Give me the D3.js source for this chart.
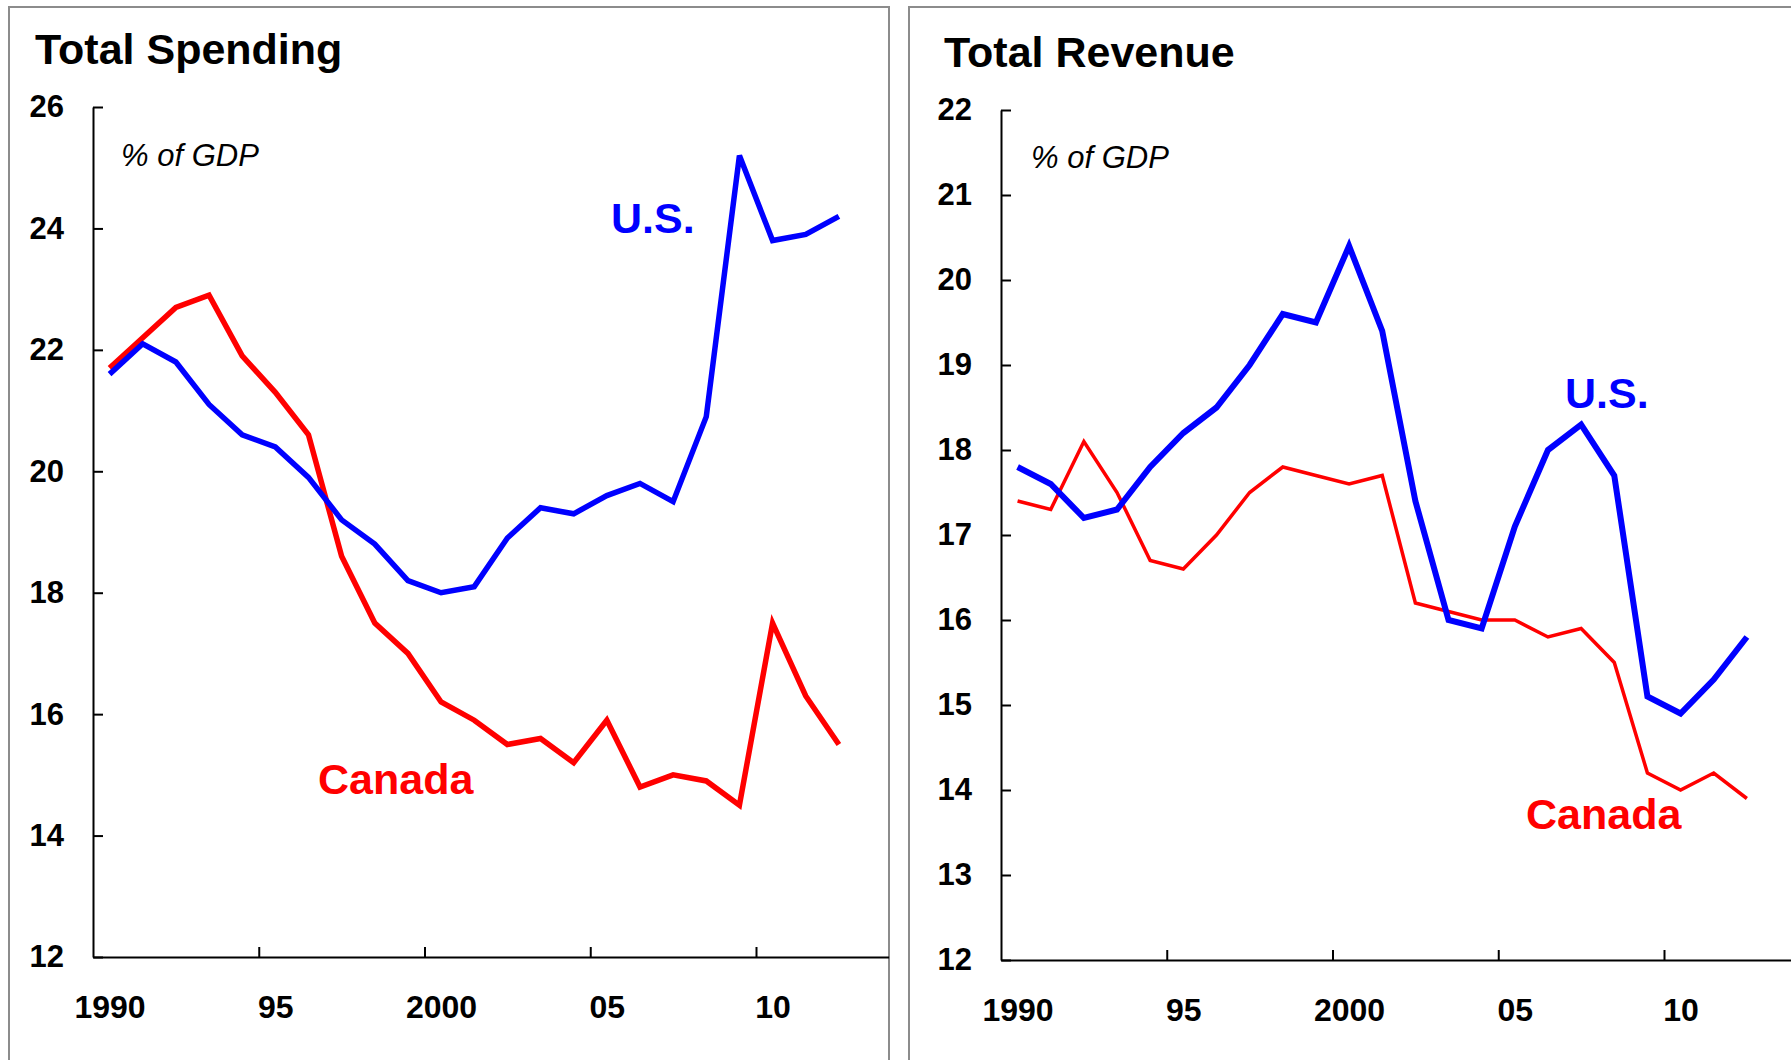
<!DOCTYPE html>
<html>
<head>
<meta charset="utf-8">
<script src="https://cdn.jsdelivr.net/npm/d3@7/dist/d3.min.js"></script>
<style>
	body { margin: 0; background: #fff; }
	svg { display: block; font-family: "Liberation Sans", Arial, sans-serif; }
</style>
</head>
<body>
<div id="chart"></div>
<script>
// data (% of GDP)
const years = [1990, 1991, 1992, 1993, 1994, 1995, 1996, 1997, 1998, 1999, 2000, 2001,
	2002, 2003, 2004, 2005, 2006, 2007, 2008, 2009, 2010, 2011, 2012]

const usSpending = [21.6, 22.1, 21.8, 21.1, 20.6, 20.4, 19.9, 19.2, 18.8, 18.2, 18.0, 18.1,
	18.9, 19.4, 19.3, 19.6, 19.8, 19.5, 20.9, 25.2, 23.8, 23.9, 24.2]
const canadaSpending = [21.7, 22.2, 22.7, 22.9, 21.9, 21.3, 20.6, 18.6, 17.5, 17.0, 16.2, 15.9,
	15.5, 15.6, 15.2, 15.9, 14.8, 15.0, 14.9, 14.5, 17.5, 16.3, 15.5]

const usRevenue = [17.8, 17.6, 17.2, 17.3, 17.8, 18.2, 18.5, 19.0, 19.6, 19.5, 20.4, 19.4,
	17.4, 16.0, 15.9, 17.1, 18.0, 18.3, 17.7, 15.1, 14.9, 15.3, 15.8]
const canadaRevenue = [17.4, 17.3, 18.1, 17.5, 16.7, 16.6, 17.0, 17.5, 17.8, 17.7, 17.6, 17.7,
	16.2, 16.1, 16.0, 16.0, 15.8, 15.9, 15.5, 14.2, 14.0, 14.2, 13.9]

const xLabelYears = [1990, 1995, 2000, 2005, 2010]
const xLabels = ["1990", "95", "2000", "05", "10"]
const spendingTicks = [12, 14, 16, 18, 20, 22, 24, 26]
const revenueTicks = [12, 13, 14, 15, 16, 17, 18, 19, 20, 21, 22]

const BLUE = "#0000ff"
const RED = "#ff0000"

class panelViz{
	constructor(svg, opts){
		this.svg = svg
		this.opts = opts
		this.initVis()
	}

	initVis(){
		let vis = this;
		let o = vis.opts

		vis.g = vis.svg.append("g")

		// panel frame (runs off the bottom of the picture)
		vis.g.append("rect")
				.attr("x", o.frame[0]).attr("y", o.frame[1])
				.attr("width", o.frame[2]).attr("height", 1200)
				.attr("fill", "none")
				.attr("stroke", "#8c8c8c")
				.attr("stroke-width", 2)

		// category axis: one band per year, 1990-2013
		vis.xScale = d3.scaleLinear()
				.domain([1989.5, 2013.5])
				.range([o.left, o.left + 24 * o.band])

		vis.yScale = d3.scaleLinear()
				.domain(d3.extent(o.ticks))
				.range([o.bottom, o.top])

		vis.yAxis = d3.axisLeft(vis.yScale)
				.tickValues(o.ticks)
				.tickSizeInner(-10)
				.tickSizeOuter(0)
				.tickPadding(29)

		vis.g.append("g")
				.attr("transform", `translate(${o.left},0)`)
				.call(vis.yAxis)
				.call(g => g.selectAll("text").attr("font-size", 31).attr("font-weight", "bold").attr("fill", "#000"))
				.call(g => g.selectAll("line,path").attr("stroke", "#000").attr("stroke-width", 2))

		// tick marks between categories
		vis.g.append("g")
				.attr("transform", `translate(0,${o.bottom})`)
				.call(d3.axisBottom(vis.xScale)
						.tickValues([1994.5, 1999.5, 2004.5, 2009.5])
						.tickFormat("")
						.tickSizeInner(-10)
						.tickSizeOuter(0))
				.call(g => g.selectAll("line,path").attr("stroke", "#000").attr("stroke-width", 2))

		// labels centred in the categories
		vis.g.append("g")
				.attr("transform", `translate(0,${o.bottom})`)
				.call(d3.axisBottom(vis.xScale)
						.tickValues(xLabelYears)
						.tickFormat((d, i) => xLabels[i])
						.tickSize(0)
						.tickPadding(38))
				.call(g => g.select(".domain").remove())
				.call(g => g.selectAll("text").attr("font-size", 32).attr("font-weight", "bold").attr("fill", "#000"))

		vis.line = d3.line()
				.x((d, i) => vis.xScale(years[i]))
				.y(d => vis.yScale(d))

		o.series.forEach(s => {
			vis.g.append("path")
					.datum(s.values)
					.attr("d", vis.line)
					.attr("fill", "none")
					.attr("stroke", s.color)
					.attr("stroke-width", s.width)
					.attr("stroke-linejoin", "miter")
		})

		// title, unit note, series labels
		vis.g.append("text")
				.attr("x", o.title[1]).attr("y", o.title[2])
				.attr("font-size", 43).attr("font-weight", "bold")
				.text(o.title[0])

		vis.g.append("text")
				.attr("x", o.unit[0]).attr("y", o.unit[1])
				.attr("font-size", 31).attr("font-style", "italic")
				.text("% of GDP")

		o.labels.forEach(l => {
			vis.g.append("text")
					.attr("x", l.x).attr("y", l.y)
					.attr("font-size", 43).attr("font-weight", "bold")
					.attr("fill", l.color)
					.text(l.text)
		})
	}
}

const svg = d3.select("#chart").append("svg")
		.attr("width", 1791)
		.attr("height", 1060)

new panelViz(svg, {
	frame: [9, 7, 880],
	left: 93, band: 33.15, top: 107, bottom: 957,
	ticks: spendingTicks,
	title: ["Total Spending", 35, 64],
	unit: [121, 166],
	series: [
		{values: canadaSpending, color: RED, width: 5.5},
		{values: usSpending, color: BLUE, width: 5.5}
	],
	labels: [
		{text: "U.S.", x: 611, y: 233, color: BLUE},
		{text: "Canada", x: 318, y: 794, color: RED}
	]
})

new panelViz(svg, {
	frame: [909, 7, 900],
	left: 1001, band: 33.15, top: 110, bottom: 960,
	ticks: revenueTicks,
	title: ["Total Revenue", 944, 67],
	unit: [1031, 168],
	series: [
		{values: canadaRevenue, color: RED, width: 3.5},
		{values: usRevenue, color: BLUE, width: 6}
	],
	labels: [
		{text: "U.S.", x: 1565, y: 408, color: BLUE},
		{text: "Canada", x: 1526, y: 829, color: RED}
	]
})
</script>
</body>
</html>
